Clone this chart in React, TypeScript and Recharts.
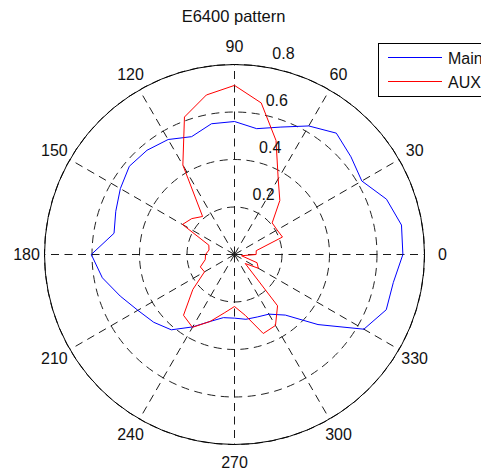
import React from "react";
import {
  PolarAngleAxis,
  PolarGrid,
  PolarRadiusAxis,
  Radar,
  RadarChart,
} from "recharts";

// measurement angles (deg, counter-clockwise from east)
const ANGLES = [
  0, 10, 20, 30, 40, 50, 60, 70, 80, 90, 100, 110, 120, 130, 140, 150, 160, 170,
  180, 190, 200, 210, 220, 230, 240, 250, 260, 270, 280, 290, 300, 310, 320, 330,
  340, 350,
];

const MAIN = [
  0.709, 0.714, 0.681, 0.619, 0.64, 0.667, 0.625, 0.571, 0.538, 0.56, 0.559, 0.528,
  0.559, 0.573, 0.578, 0.555, 0.532, 0.515, 0.603, 0.565, 0.512, 0.47, 0.444, 0.414,
  0.352, 0.3, 0.27, 0.268, 0.277, 0.28, 0.29, 0.333, 0.459, 0.629, 0.68, 0.679,
];

const AUX = [
  0.091, 0.093, 0.215, 0.207, 0.207, 0.297, 0.368, 0.511, 0.648, 0.712, 0.682, 0.616,
  0.435, 0.209, 0.235, 0.253, 0.115, 0.109, 0.122, 0.125, 0.153, 0.146, 0.229, 0.334,
  0.354, 0.3, 0.25, 0.219, 0.26, 0.354, 0.345, 0.282, 0.059, 0.116, 0.101, 0.03,
];

const SPOKES = [0, 30, 60, 90, 120, 150, 180, 210, 240, 270, 300, 330];
const RADIUS_TICKS = [0, 0.2, 0.4, 0.6, 0.8];
const R_MAX = 0.8;

const SERIES = [
  { key: "main", name: "Main", color: "#0000ff" },
  { key: "aux", name: "AUX", color: "#ff0000" },
];

const data = ANGLES.map((angle, i) => ({ angle, main: MAIN[i], aux: AUX[i] }));

const FONT = '"Liberation Sans", Arial, Helvetica, sans-serif';
const W = 481;
const H = 472;
const CX = 234.5;
const CY = 254.5;
const OUTER_R = 190;
const LABEL_R = 208;
const STEP = 360 / ANGLES.length;
// the radar's radius axis ends up spanning 0..1 here, so stretch it until 0.8 sits on the rim
const DATA_R = OUTER_R / R_MAX;

const layer: React.CSSProperties = { position: "absolute", left: 0, top: 0 };

// category bands start one step early, so the label is placed from its own value
const AngleTick = (props: any) => {
  const { payload } = props;
  if (payload.value % 30 !== 0) return <g />;
  const a = (payload.value * Math.PI) / 180;
  return (
    <text
      x={CX + LABEL_R * Math.cos(a)}
      y={CY - LABEL_R * Math.sin(a)}
      dy="0.36em"
      textAnchor="middle"
      fontSize={16}
      fill="#111"
      fontFamily={FONT}
    >
      {payload.value}
    </text>
  );
};

const RadiusTick = (props: any) => {
  const { x, y, payload } = props;
  if (!payload.value) return <g />;
  return (
    <text x={x + 11.4} y={y - 13.3} dy="0.36em" textAnchor="start" fontSize={16} fill="#111" fontFamily={FONT}>
      {Number(payload.value).toFixed(1)}
    </text>
  );
};

export default function App() {
  const polarProps = {
    width: W,
    height: H,
    data,
    cx: CX,
    cy: CY,
    innerRadius: 0,
    startAngle: -STEP,
    endAngle: 360 - STEP,
    margin: { top: 0, right: 0, bottom: 0, left: 0 },
  };

  return (
    <div
      style={{
        position: "absolute",
        left: 0,
        top: 0,
        width: W,
        height: H,
        overflow: "hidden",
        background: "#fff",
        fontFamily: FONT,
      }}
    >
      <div
        style={{
          position: "absolute",
          left: 0,
          width: 467,
          top: 7,
          textAlign: "center",
          fontSize: 16.5,
          color: "#111",
        }}
      >
        E6400 pattern
      </div>

      {/* spokes + angle labels */}
      <div style={layer}>
        <RadarChart {...polarProps} outerRadius={OUTER_R}>
          <PolarGrid
            gridType="circle"
            polarAngles={SPOKES}
            polarRadius={[]}
            stroke="#1a1a1a"
            strokeDasharray="8 5.5"
          />
          <PolarAngleAxis dataKey="angle" tick={<AngleTick />} tickLine={false} axisLine={false} />
        </RadarChart>
      </div>

      {/* rings, rim, radial labels and the two patterns */}
      <div style={layer}>
        <RadarChart {...polarProps} outerRadius={DATA_R}>
          <PolarGrid gridType="circle" radialLines={false} stroke="#222" strokeDasharray="8 5.5" />
          <PolarGrid gridType="circle" radialLines={false} polarRadius={[OUTER_R]} stroke="#000" />
          <PolarAngleAxis dataKey="angle" tick={false} tickLine={false} axisLine={false} />
          <PolarRadiusAxis
            type="number"
            angle={82}
            domain={[0, R_MAX]}
            ticks={RADIUS_TICKS}
            allowDataOverflow
            axisLine={false}
            tick={<RadiusTick />}
          />
          {SERIES.map((s) => (
            <Radar
              key={s.key}
              dataKey={s.key}
              name={s.name}
              stroke={s.color}
              strokeWidth={1}
              fill="none"
              fillOpacity={0}
              dot={false}
              isAnimationActive={false}
            />
          ))}
        </RadarChart>
      </div>

      <div
        style={{
          position: "absolute",
          left: 378,
          top: 43,
          width: 140,
          height: 54,
          boxSizing: "border-box",
          border: "1px solid #000",
          background: "#fff",
        }}
      >
        <svg width={70} height={52} style={{ position: "absolute", left: 0, top: 0 }}>
          {SERIES.map((s, i) => (
            <line
              key={s.key}
              x1={9}
              x2={63}
              y1={13.5 + i * 24}
              y2={13.5 + i * 24}
              stroke={s.color}
              strokeWidth={1}
              shapeRendering="crispEdges"
            />
          ))}
        </svg>
        {SERIES.map((s, i) => (
          <div
            key={s.key}
            style={{
              position: "absolute",
              left: 69,
              top: 6 + i * 24,
              fontSize: 16,
              color: "#111",
              whiteSpace: "nowrap",
            }}
          >
            {s.name}
          </div>
        ))}
      </div>
    </div>
  );
}
